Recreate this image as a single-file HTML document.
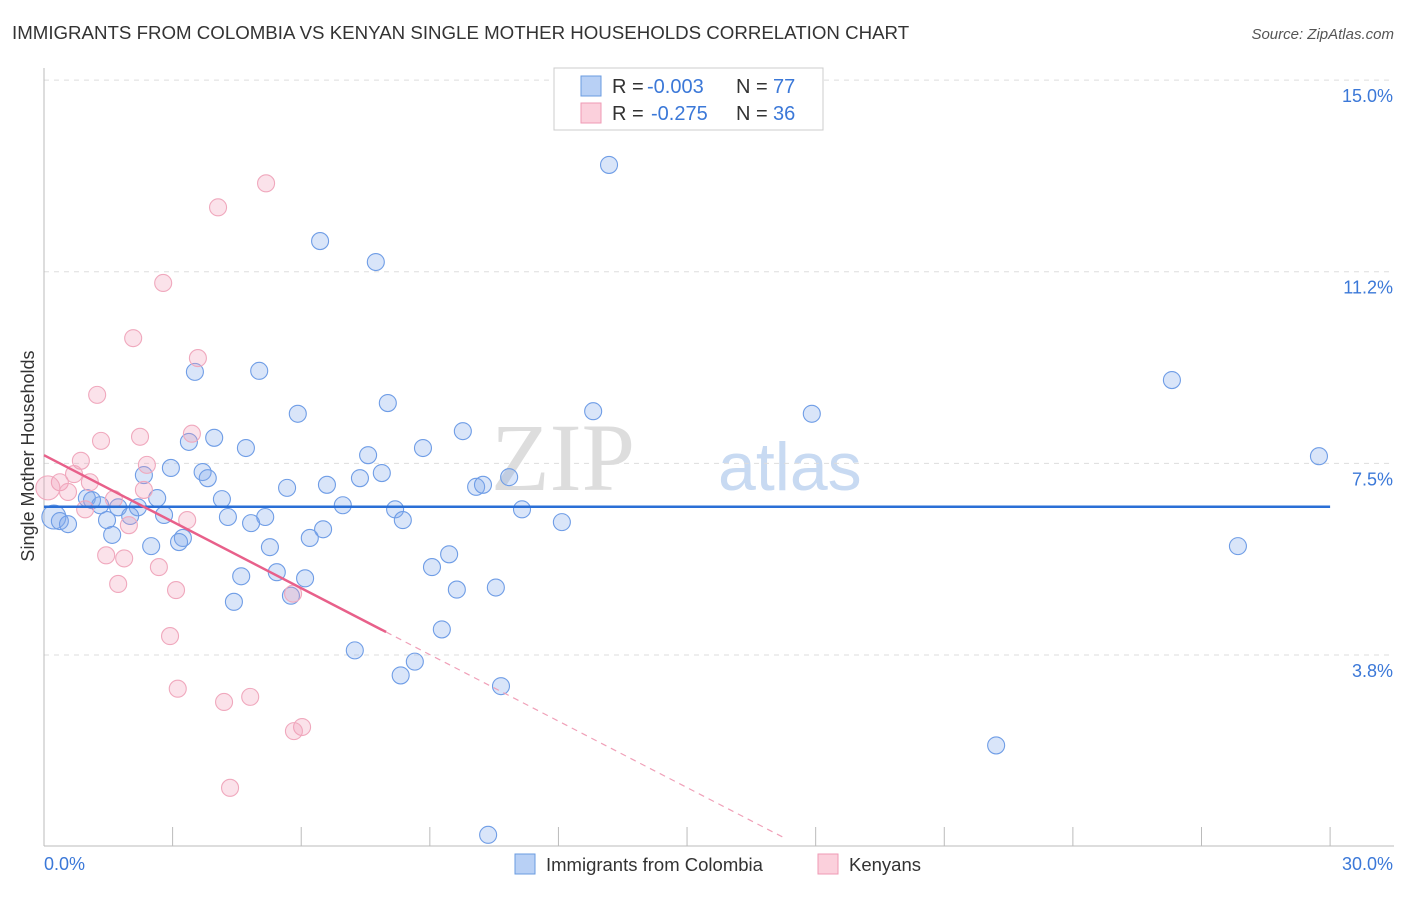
<!DOCTYPE html>
<html><head><meta charset="utf-8"><style>
body{margin:0;background:#fff;font-family:"Liberation Sans",sans-serif}
svg text{font-family:"Liberation Sans",sans-serif}
</style></head><body>
<svg width="1406" height="892" xmlns="http://www.w3.org/2000/svg" id="chart">
<text x="12" y="39" font-size="18.7" fill="#333">IMMIGRANTS FROM COLOMBIA VS KENYAN SINGLE MOTHER HOUSEHOLDS CORRELATION CHART</text>
<text x="1394" y="39" font-size="15" fill="#555" font-style="italic" text-anchor="end">Source: ZipAtlas.com</text>
<text x="635" y="490" font-size="96" fill="#ddd" text-anchor="end" style="font-family:'Liberation Serif',serif">ZIP</text>
<text x="718" y="490" font-size="68" fill="#c8daf2">atlas</text>
<text x="34" y="456" font-size="18" fill="#333" text-anchor="middle" transform="rotate(-90 34 456)">Single Mother Households</text>
<g id="grid"></g><g id="axes"></g><g id="marks"></g>
<g>
<rect x="554" y="68" width="269" height="62" fill="#fff" stroke="#ccc"/>
<rect x="581" y="76" width="20" height="20" fill="#b8d0f5" stroke="#6a9be0"/>
<text x="612" y="93" font-size="20" fill="#333">R =</text>
<text x="647" y="93" font-size="20" fill="#3b78d8">-0.003</text>
<text x="736" y="93" font-size="20" fill="#333">N =</text>
<text x="773" y="93" font-size="20" fill="#3b78d8">77</text>
<rect x="581" y="103" width="20" height="20" fill="#fbd0dc" stroke="#ef9ab4"/>
<text x="612" y="120" font-size="20" fill="#333">R =</text>
<text x="651" y="120" font-size="20" fill="#3b78d8">-0.275</text>
<text x="736" y="120" font-size="20" fill="#333">N =</text>
<text x="773" y="120" font-size="20" fill="#3b78d8">36</text>
</g>
<g>
<rect x="515" y="854" width="20" height="20" fill="#b8d0f5" stroke="#6a9be0"/>
<text x="546" y="871" font-size="18.5" fill="#333">Immigrants from Colombia</text>
<rect x="818" y="854" width="20" height="20" fill="#fbd0dc" stroke="#ef9ab4"/>
<text x="849" y="871" font-size="18.5" fill="#333">Kenyans</text>
</g>
</svg>
<script>
const blueX=[13.18,6.44,7.74,3.52,5.02,26.31,8.02,5.92,12.81,17.91,9.77,3.38,3.97,8.84,4.71,7.56,29.74,2.96,2.33,3.70,3.82,7.88,7.37,10.85,6.60,5.67,10.08,10.24,2.64,4.15,1.0,1.12,1.31,1.73,2.19,6.97,8.19,11.15,2.80,4.29,5.16,2.01,1.47,8.37,12.08,4.83,0.23,0.37,0.56,6.51,3.24,1.59,6.20,3.15,2.50,5.27,27.85,9.45,9.05,5.43,4.60,6.09,10.54,9.63,5.76,4.43,9.28,7.25,8.65,8.32,10.66,22.21,10.36];
const blueY=[13.34,11.85,11.44,9.29,9.31,9.13,8.68,8.47,8.52,8.47,8.13,7.92,8.00,7.80,7.80,7.66,7.64,7.41,7.27,7.33,7.21,7.31,7.21,7.23,7.08,7.02,7.04,7.08,6.82,6.80,6.82,6.78,6.68,6.64,6.64,6.68,6.60,6.60,6.49,6.45,6.45,6.47,6.39,6.39,6.35,6.33,6.45,6.37,6.31,6.21,6.04,6.10,6.04,5.96,5.88,5.86,5.88,5.72,5.47,5.37,5.29,5.25,5.07,5.03,4.91,4.79,4.25,3.84,3.62,3.35,3.14,1.98,0.23];
const pinkX=[5.18,4.06,2.78,2.08,3.59,1.24,2.24,1.33,3.45,0.86,2.40,0.70,1.07,0.37,0.09,0.56,2.33,1.63,0.96,3.34,1.98,1.45,1.87,2.68,1.73,3.08,5.81,2.94,3.12,4.81,4.20,6.02,5.83,4.34];
const pinkY=[12.98,12.51,11.03,9.95,9.56,8.84,8.02,7.94,8.08,7.55,7.47,7.29,7.13,7.13,7.02,6.94,6.98,6.80,6.60,6.39,6.29,5.70,5.64,5.47,5.14,5.02,4.95,4.12,3.09,2.93,2.83,2.34,2.26,1.15];
const yTicks=[3.8,7.5,11.2,15.0];
const yTickVals=[3.75,7.5,11.25,15.0];
const blueTrend=[6.65,6.65];
const pinkTrend=[7.66,0.17];
const pinkSolidEnd=7.98, pinkDashEnd=17.27;
const NS='http://www.w3.org/2000/svg';
const sx=v=>44+v*42.87, sy=v=>846.6-v*51.1;
function mk(t,a,p){const e=document.createElementNS(NS,t);for(const k in a)e.setAttribute(k,a[k]);document.getElementById(p).appendChild(e);return e;}
yTickVals.forEach((v,i)=>{
 const g=mk('line',{x1:44,x2:1394,y1:sy(v),y2:sy(v),stroke:'#ddd','stroke-dasharray':'5,5'},'grid');
 
 
 const t=mk('text',{x:1393,y:sy(v)+22,'font-size':18,fill:'#3b78d8','text-anchor':'end'},'grid');
 t.textContent=yTicks[i].toFixed(1)+'%';
 
 
});
mk('line',{x1:44,x2:44,y1:68,y2:846,stroke:'#bbb'},'axes');
mk('line',{x1:44,x2:1394,y1:846,y2:846,stroke:'#bbb'},'axes');
for(let k=0;k<=10;k++){const l=mk('line',{x1:sx(k*3),x2:sx(k*3),y1:827,y2:846,stroke:'#bbb'},'axes');
 
 }
[['0.0%',44,'start'],['30.0%',1393,'end']].forEach(a=>{const t=mk('text',{x:a[1],y:870,'font-size':18,fill:'#3b78d8','text-anchor':a[2]},'axes');t.textContent=a[0];
 
 });
function dot(x,y,c,big){return mk('circle',{cx:sx(x),cy:sy(y),r:big?12:8.5,fill:c==='b'?'rgba(130,170,235,0.3)':'rgba(240,150,180,0.28)',stroke:c==='b'?'#6f9de6':'#f0a8bd','stroke-width':1.1},'marks');}
blueX.forEach((x,i)=>{const e=dot(x,blueY[i],'b',i===46);
 
 });
pinkX.forEach((x,i)=>{const e=dot(x,pinkY[i],'p',i===14);
 
 });
const pv=x=>pinkTrend[0]+(pinkTrend[1]-pinkTrend[0])*x/pinkDashEnd;
const bl=mk('line',{x1:sx(0),x2:sx(30),y1:sy(blueTrend[0]),y2:sy(blueTrend[1]),stroke:'#2a6fd6','stroke-width':2.5},'marks');


const pl=mk('line',{x1:sx(0),x2:sx(pinkSolidEnd),y1:sy(pv(0)),y2:sy(pv(pinkSolidEnd)),stroke:'#e8608a','stroke-width':2.5},'marks');


const pd=mk('line',{x1:sx(pinkSolidEnd),x2:sx(pinkDashEnd),y1:sy(pv(pinkSolidEnd)),y2:sy(pv(pinkDashEnd)),stroke:'#f0a0b8','stroke-width':1.2,'stroke-dasharray':'6,5'},'marks');


</script>
</body></html>
